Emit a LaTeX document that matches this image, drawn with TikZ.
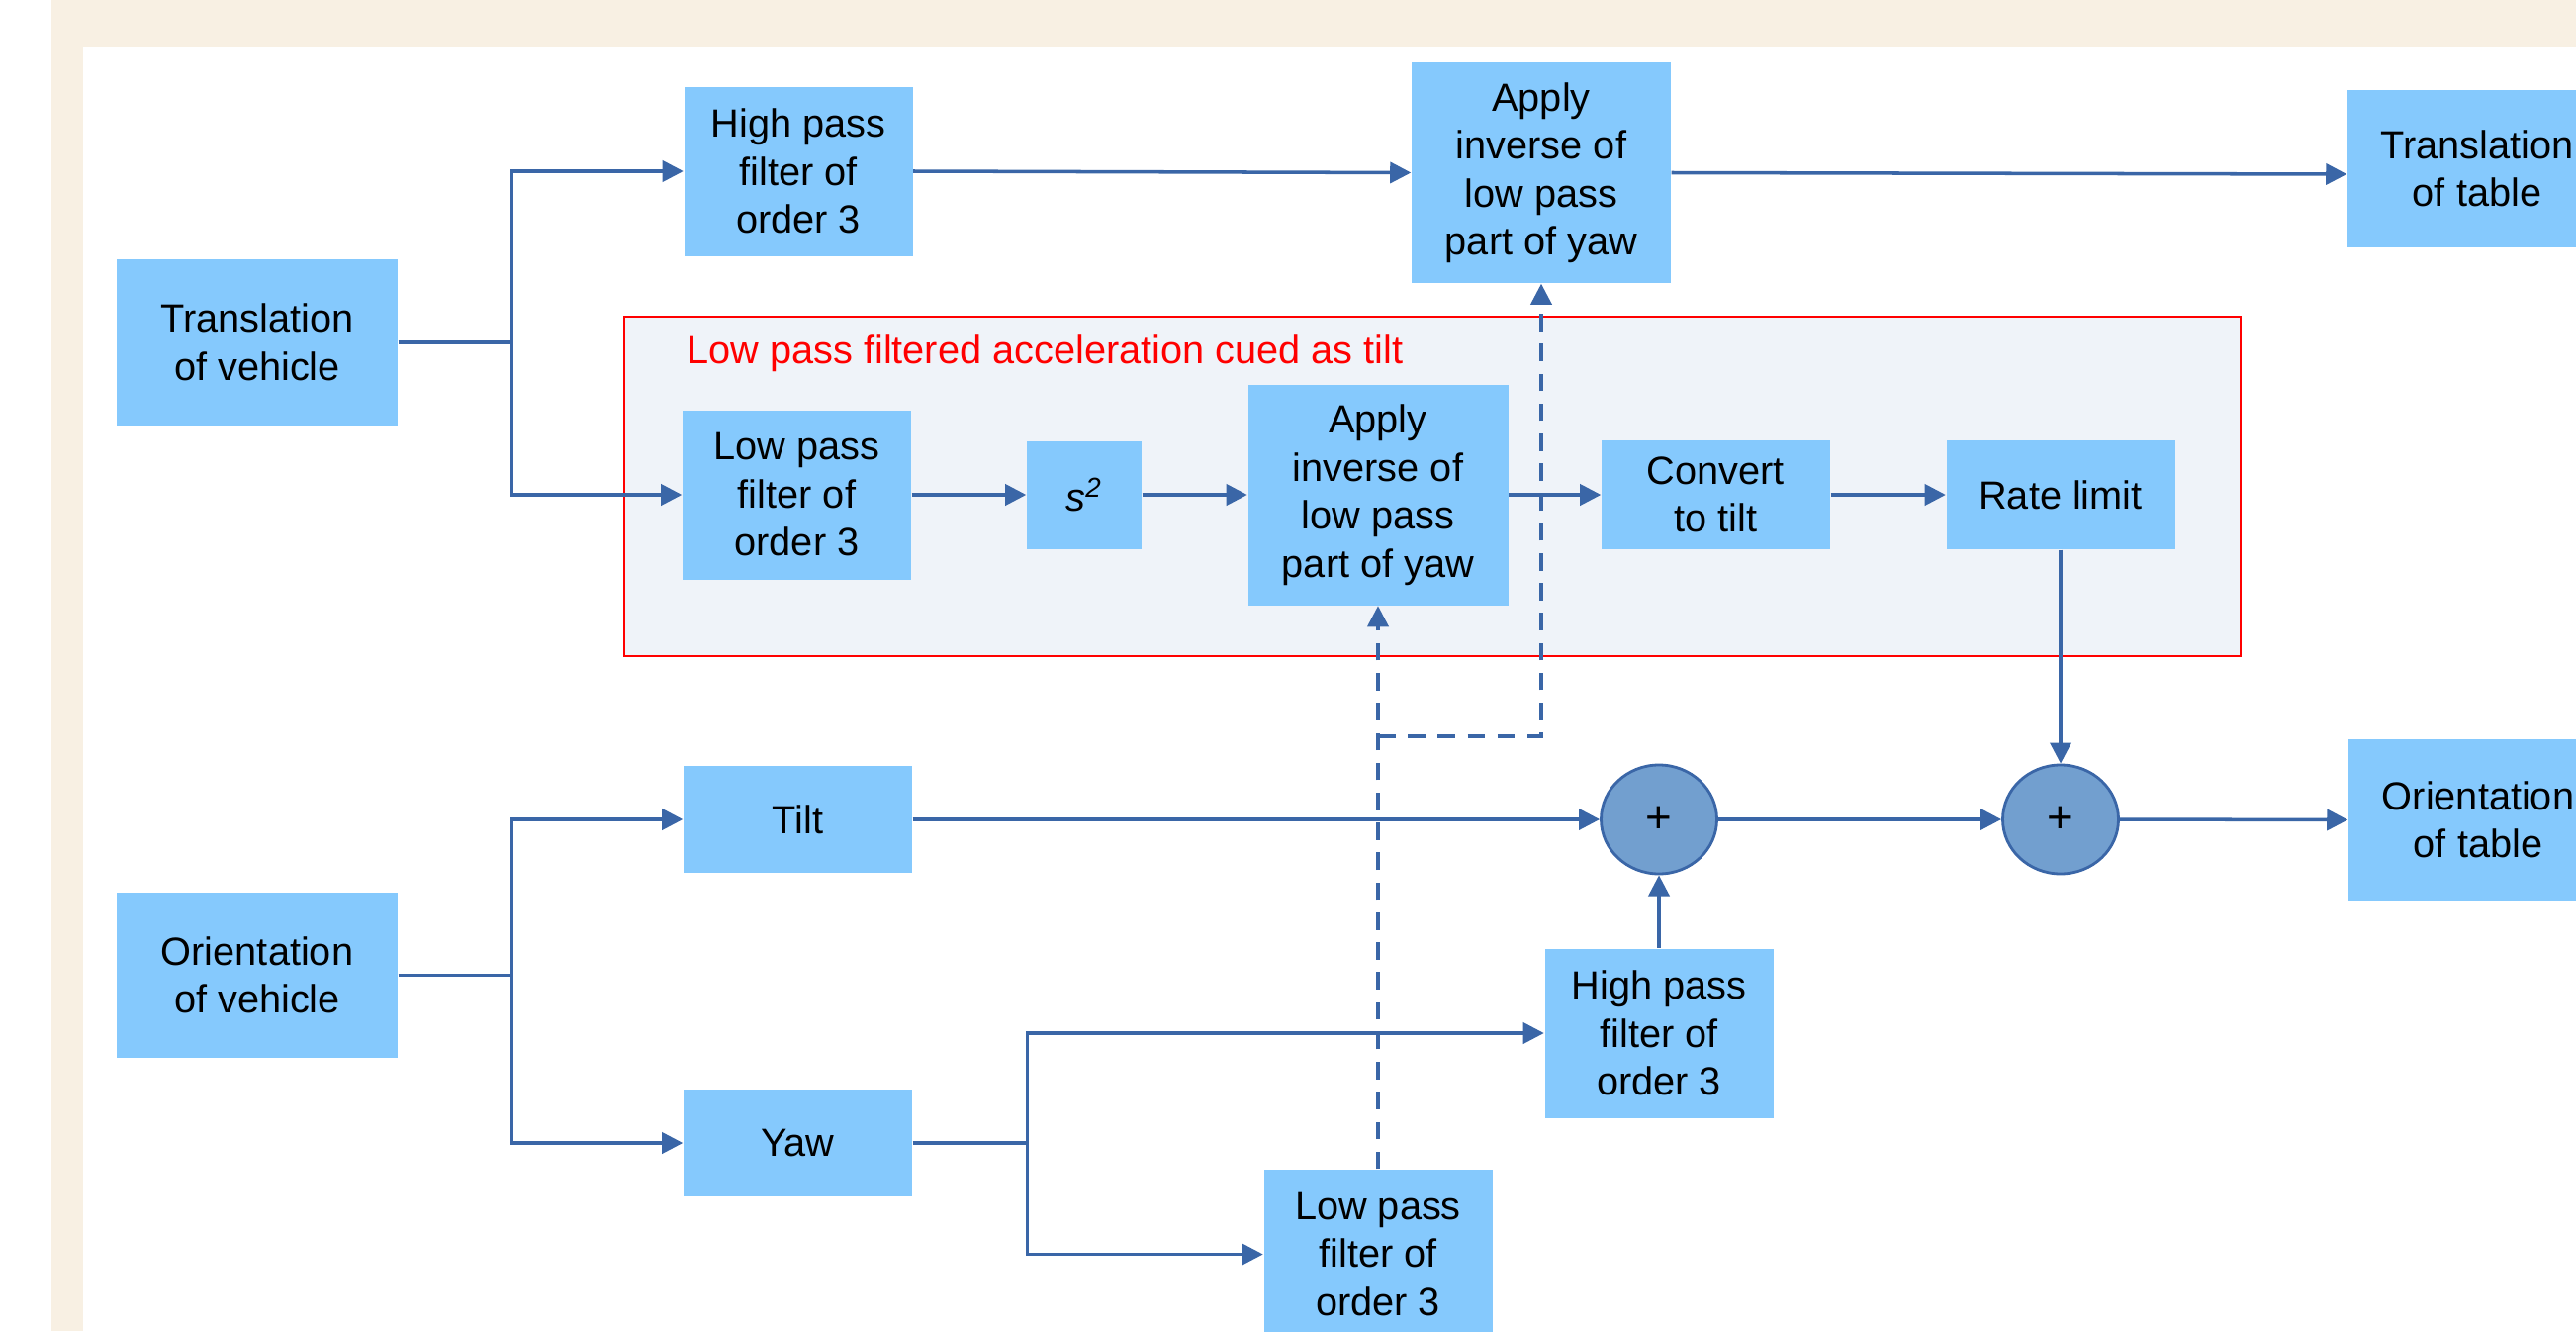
\documentclass[tikz,border=0pt]{standalone}
\usepackage{fontspec}
\setmainfont{Liberation Sans}
\usepackage{tikz}
\usetikzlibrary{shapes.geometric, arrows.meta, positioning}
\definecolor{boxblue}{HTML}{85C9FD}
\definecolor{sumblue}{HTML}{729FCF}
\definecolor{linkblue}{HTML}{3A66A7}
\definecolor{cuefill}{HTML}{EFF3F9}
\definecolor{framebeige}{HTML}{F8F0E3}
\tikzstyle{block} = [rectangle, fill=boxblue, text centered, align=center, inner sep=0pt, minimum width=2.31cm, minimum height=1.71cm]
\tikzstyle{smallblock} = [block, minimum height=1.09cm]
\tikzstyle{sumnode} = [ellipse, draw=linkblue, fill=sumblue, line width=0.8pt, minimum width=1.17cm, minimum height=1.1cm, inner sep=0pt, font=\fontsize{13}{14}\selectfont]
\tikzstyle{line} = [draw=linkblue, line width=1pt]
\tikzstyle{arrow} = [line, ->, >={Triangle[length=6pt,width=6pt]}]
\tikzstyle{dasharrow} = [arrow, dash pattern=on 5pt off 3.6pt]

\begin{document}
\begin{tikzpicture}[font=\fontsize{11.3}{13.8}\selectfont]
  \clip (0,0) rectangle (26.04,-13.45);
  \fill[white] (0,0) rectangle (26.04,-13.45);
  \fill[framebeige] (0.52,0) rectangle (26.04,-13.45);
  \fill[white] (0.84,-0.47) rectangle (26.04,-13.45);

  % tilt cueing group
  \draw[red, line width=0.7pt, fill=cuefill] (6.31,-3.20) rectangle (22.65,-6.63);
  \node (cue) [anchor=west, text=red] at (6.82,-3.57) {Low pass filtered acceleration cued as tilt};

  % translation path
  \node (tv) [block, minimum width=2.84cm, minimum height=1.68cm] at (2.60,-3.46) {Translation\\of vehicle};
  \node (hpf1) [block] at (8.07,-1.73) {High pass\\filter of\\order 3};
  \node (ai1) [block, minimum width=2.62cm, minimum height=2.23cm] at (15.58,-1.745) {Apply\\inverse of\\low pass\\part of yaw};
  \node (tt) [block, minimum width=2.62cm, minimum height=1.59cm] at (25.04,-1.705) {Translation\\of table};

  \node (lpf1) [block] at (8.055,-5.00) {Low pass\\filter of\\order 3};
  \node (sq) [smallblock, minimum width=1.16cm] at (10.96,-5.00) {\textit{s}\textsuperscript{\textit{2}}};
  \node (ai2) [block, minimum width=2.63cm, minimum height=2.23cm] at (13.93,-5.00) {Apply\\inverse of\\low pass\\part of yaw};
  \node (ct) [smallblock, minimum height=1.10cm] at (17.345,-5.00) {Convert\\to tilt};
  \node (rl) [smallblock, minimum height=1.10cm] at (20.83,-5.00) {Rate limit};

  % orientation path
  \node (ov) [block, minimum width=2.84cm, minimum height=1.67cm] at (2.60,-9.855) {Orientation\\of vehicle};
  \node (tilt) [smallblock, minimum height=1.08cm] at (8.065,-8.28) {Tilt};
  \node (yaw) [smallblock, minimum height=1.08cm] at (8.065,-11.55) {Yaw};
  \node (sum1) [sumnode] at (16.77,-8.28) {+};
  \node (sum2) [sumnode] at (20.83,-8.28) {+};
  \node (ot) [block, minimum width=2.62cm, minimum height=1.63cm] at (25.05,-8.285) {Orientation\\of table};
  \node (hpf2) [block] at (16.77,-10.44) {High pass\\filter of\\order 3};
  \node (lpf2) [block] at (13.93,-12.675) {Low pass\\filter of\\order 3};

  \coordinate[right=1.15cm of tv] (tsplit);
  \coordinate[right=1.15cm of ov] (osplit);
  \coordinate[right=1.16cm of yaw] (ysplit);
  \coordinate (dsplit) at (lpf2.north |- 0,-7.44);

  \draw [line] (tv.east) -- (tsplit);
  \draw [arrow] (tsplit) |- (hpf1.west);
  \draw [arrow] (tsplit) |- (lpf1.west);
  \draw [arrow] (hpf1.east) -- (ai1.west);
  \draw [arrow] (ai1.east) -- ([yshift=-0.055cm]tt.west);
  \draw [arrow] (lpf1.east) -- (sq.west);
  \draw [arrow] (sq.east) -- (ai2.west);
  \draw [arrow] (ai2.east) -- (ct.west);
  \draw [arrow] (ct.east) -- (rl.west);
  \draw [arrow] (rl.south) -- (sum2.north);

  \draw [line] (ov.east) -- (osplit);
  \draw [arrow] (osplit) |- (tilt.west);
  \draw [arrow] (osplit) |- (yaw.west);
  \draw [arrow] (tilt.east) -- (sum1.west);
  \draw [arrow] (sum1.east) -- (sum2.west);
  \draw [arrow] (sum2.east) -- (ot.west);
  \draw [line] (yaw.east) -- (ysplit);
  \draw [arrow] (ysplit) |- (hpf2.west);
  \draw [arrow] (ysplit) |- (lpf2.west);
  \draw [arrow] (hpf2.north) -- (sum1.south);

  \draw [dasharrow] (lpf2.north) -- (ai2.south);
  \draw [dasharrow] (dsplit) -| (ai1.south);
\end{tikzpicture}
\end{document}
